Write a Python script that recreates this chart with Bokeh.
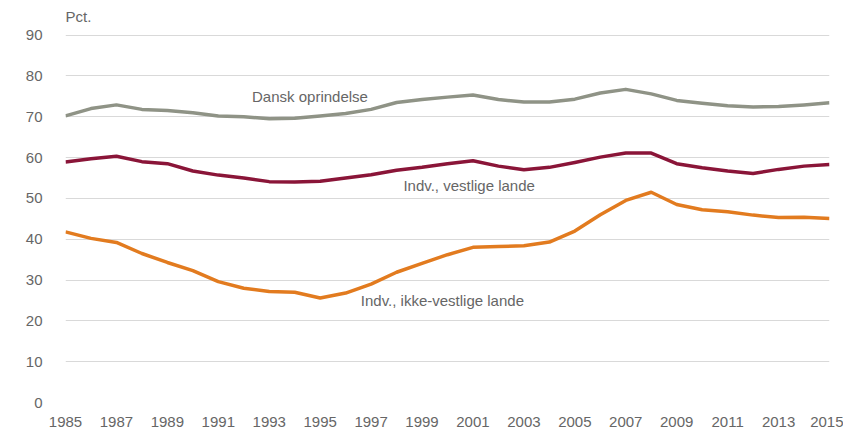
from bokeh.plotting import figure
from bokeh.models import Label, FixedTicker, Range1d
from bokeh.embed import file_html
from bokeh.resources import INLINE

years = list(range(1985, 2016))
dansk = [70.2, 72.0, 72.9, 71.8, 71.5, 71.0, 70.2, 70.0, 69.5, 69.6, 70.2, 70.8,
         71.8, 73.5, 74.2, 74.8, 75.3, 74.2, 73.6, 73.6, 74.3, 75.8, 76.7, 75.6,
         74.0, 73.3, 72.7, 72.4, 72.5, 72.9, 73.4]
vestlige = [58.9, 59.7, 60.3, 59.0, 58.5, 56.7, 55.7, 55.0, 54.1, 54.0, 54.2, 55.0,
            55.8, 56.9, 57.6, 58.5, 59.2, 57.9, 57.0, 57.6, 58.8, 60.1, 61.1, 61.1,
            58.5, 57.5, 56.7, 56.1, 57.1, 57.9, 58.3]
ikke_vestlige = [41.8, 40.2, 39.2, 36.5, 34.3, 32.3, 29.6, 28.0, 27.2, 27.0, 25.6, 26.8,
                 29.0, 31.9, 34.1, 36.2, 38.0, 38.2, 38.4, 39.3, 42.0, 46.0, 49.5, 51.5,
                 48.5, 47.2, 46.7, 45.9, 45.3, 45.4, 45.1]
series_names = ["Dansk oprindelse", "Indv., vestlige lande", "Indv., ikke-vestlige lande"]
series_colors = ["#8f9386", "#8a1538", "#e27b1f"]
label_x = [1994.6, 2000.85, 1999.8]
label_y = [74.9, 53.2, 24.9]
x_ticks = list(range(1985, 2016, 2))
y_ticks = list(range(0, 100, 10))
unit_label = "Pct."

FONT = "Liberation Sans"
TXT = "#666666"

p = figure(width=843, height=429, output_backend="svg", toolbar_location=None,
           x_range=Range1d(1985, 2015), y_range=Range1d(0, 97),
           min_border_left=65, min_border_right=14, min_border_top=6, min_border_bottom=0)
p.outline_line_color = None
p.background_fill_color = "white"
p.border_fill_color = "white"

p.xgrid.grid_line_color = None
p.ygrid.grid_line_color = "#d9d9d9"
p.ygrid.grid_line_width = 1
p.ygrid.ticker = FixedTicker(ticks=y_ticks)

for ax in (p.xaxis[0], p.yaxis[0]):
    ax.axis_line_color = None
    ax.major_tick_line_color = None
    ax.minor_tick_line_color = None
    ax.major_label_text_font = FONT
    ax.major_label_text_font_size = "15px"
    ax.major_label_text_color = TXT

p.xaxis.ticker = FixedTicker(ticks=x_ticks)
p.yaxis.ticker = FixedTicker(ticks=y_ticks)
p.xaxis.major_label_standoff = 8
p.yaxis.major_label_standoff = 17

for ys, c in zip([dansk, vestlige, ikke_vestlige], series_colors):
    p.line(years, ys, line_color=c, line_width=3.5, line_join="round")

for name, lx, ly in zip(series_names, label_x, label_y):
    p.add_layout(Label(x=lx, y=ly, text=name, text_align="center", text_baseline="middle",
                       text_font=FONT, text_font_size="15px", text_color=TXT))

p.add_layout(Label(x=x_ticks[0], y=y_ticks[-1], y_offset=10, text=unit_label,
                   text_align="left", text_baseline="bottom", text_font=FONT,
                   text_font_size="15px", text_color=TXT))

open("out.html", "w").write(file_html(p, INLINE))
